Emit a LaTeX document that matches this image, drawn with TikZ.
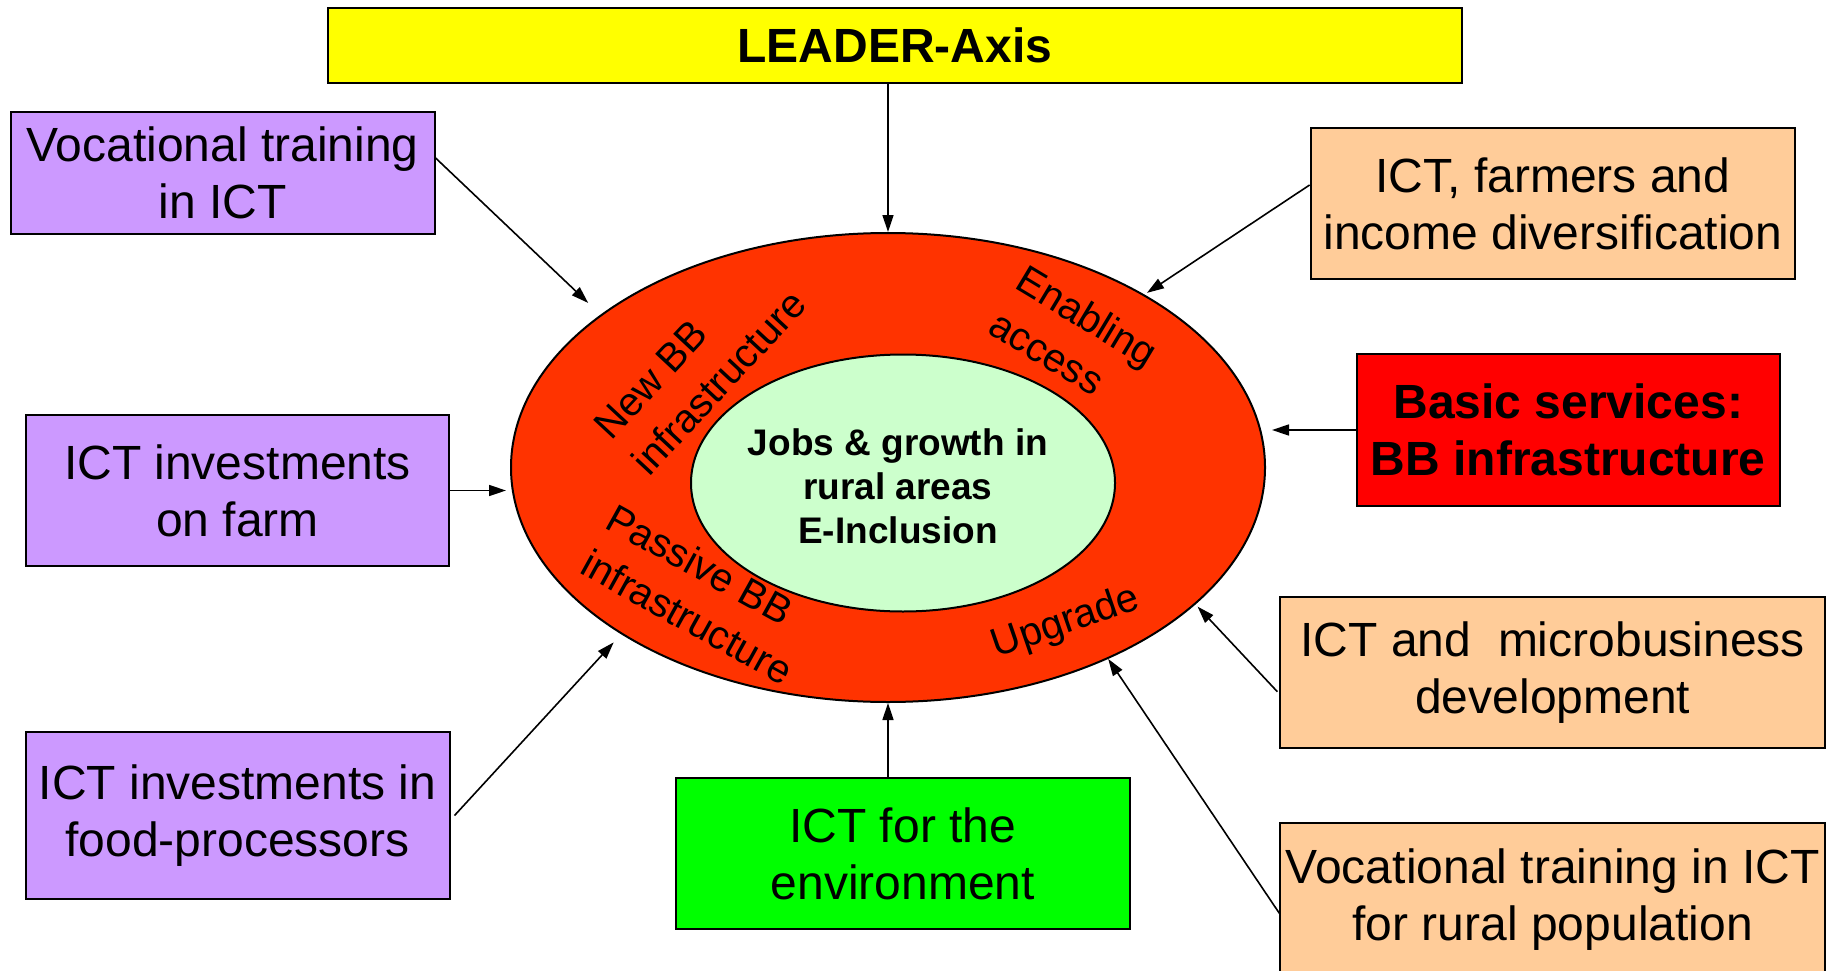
\documentclass[tikz,border=0pt]{standalone}
\usepackage{fontspec}
\setmainfont{Liberation Sans}
\usetikzlibrary{arrows.meta,shapes.geometric,calc}
\definecolor{lilac}{HTML}{CC99FF}
\definecolor{peach}{HTML}{FFCC99}
\definecolor{ringred}{HTML}{FF3300}
\definecolor{palegreen}{HTML}{CCFFCC}
\definecolor{pureyellow}{HTML}{FFFF00}
\definecolor{purered}{HTML}{FF0000}
\definecolor{puregreen}{HTML}{00FF00}
\begin{document}
\begin{tikzpicture}[x=1pt,y=-1pt,
  box/.style={draw=black, line width=2pt, align=center, inner sep=1pt,
    font=\fontsize{48}{57}\selectfont},
  conn/.style={line width=1.6pt, -{Triangle[length=17pt,width=11pt]}},
  ringlabel/.style={align=left, inner sep=0pt, font=\fontsize{40}{52}\selectfont},
  ringshape/.style={ellipse, draw=black, line width=2pt, inner sep=0pt},
]
\useasboundingbox (0,0) rectangle (1830,971);

% rings
\node[ringshape, fill=ringred, minimum width=754pt, minimum height=469pt] (outer) at (888,467.5) {};
\node[ringshape, fill=palegreen, minimum width=424pt, minimum height=257pt] (inner) at (903,483) {};
\node[align=center, inner sep=0pt, font=\bfseries\fontsize{37}{44}\selectfont] (core) at (898,486) {Jobs \& growth in\\rural areas\\E-Inclusion};

% ring labels
\node[ringlabel, rotate=47] (newbb) at (700,365) {New BB\\infrastructure};
\node[ringlabel, rotate=-31] (enab) at (1074,338) {Enabling\\access};
\node[ringlabel, rotate=-29] (passive) at (700,594) {Passive BB\\infrastructure};
\node[ringlabel, rotate=19] (upg) at (1066,623) {Upgrade};

% boxes
\node[box, fill=pureyellow, minimum width=1134pt, minimum height=75pt, font=\bfseries\fontsize{48}{57}\selectfont] (leader) at (895,45.5) {LEADER-Axis};
\node[box, fill=lilac, minimum width=424pt, minimum height=122pt] (voc) at (222.6,173) {Vocational training\\in ICT};
\node[box, fill=lilac, minimum width=423pt, minimum height=151pt] (farm) at (237.4,490.5) {ICT investments\\on farm};
\node[box, fill=lilac, minimum width=424pt, minimum height=167pt] (food) at (237.5,815.5) {ICT investments in\\food-processors};
\node[box, fill=puregreen, minimum width=454pt, minimum height=151.6pt] (env) at (902.7,853.5) {ICT for the\\environment};
\node[box, fill=peach, minimum width=484.4pt, minimum height=151.6pt] (farmers) at (1552.8,203.5) {ICT, farmers and\\income diversification};
\node[box, fill=purered, minimum width=423pt, minimum height=151.4pt, font=\bfseries\fontsize{48}{57}\selectfont] (basic) at (1568.3,430) {Basic services:\\BB infrastructure};
\node[box, fill=peach, minimum width=544.7pt, minimum height=151.3pt] (micro) at (1552.7,672.4) {ICT and\ \ microbusiness\\development};
\node[box, fill=peach, minimum width=544.7pt, minimum height=153pt, inner sep=0pt] (rural) at (1552.7,899.5) {Vocational training in ICT\\for rural population};

% connectors
\draw[conn] (leader.south -| outer.north) -- (outer.north);
\draw[conn, shorten >=17pt] ([yshift=15pt]voc.east) -- (outer.152.4);
\draw[conn, shorten >=4pt] (farm.east) -- (outer.west |- farm.east);
\draw[conn, shorten >=11pt] ([xshift=4pt]food.east) -- (outer.212.3);
\draw[conn] (env.north -| outer.south) -- (outer.south);
\draw[conn, shorten >=3pt] ([yshift=18.5pt]farmers.west) -- (outer.34.8);
\draw[conn, shorten >=6pt] (basic.west) -- (outer.east |- basic.west);
\draw[conn, shorten >=3pt] ([xshift=-2pt,yshift=-19.3pt]micro.west) -- (outer.-24.9);
\draw[conn] ([yshift=-13.8pt]rural.west) -- (outer.-41.7);
\end{tikzpicture}
\end{document}
